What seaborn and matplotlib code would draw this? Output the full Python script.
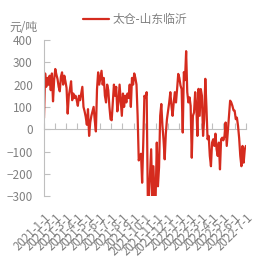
import pandas as pd
import matplotlib
matplotlib.use("Agg")
import matplotlib.pyplot as plt
import matplotlib.dates as mdates
import seaborn as sns

# spread values, 10 readings per month, 2021-01 .. 2022-06
m2021_01 = [50, 250, 190, 230, 200, 240, 175, 250, 125, 220]
m2021_02 = [270, 245, 225, 190, 170, 235, 255, 200, 240, 215]
m2021_03 = [185, 70, 150, 180, 215, 130, 160, 140, 150, 130]
m2021_04 = [105, 150, 130, 160, 190, 100, 80, 55, 20, 90]
m2021_05 = [-30, 30, 60, 80, 100, 40, -10, 180, 255, 200]
m2021_06 = [230, 262, 200, 230, 150, 120, 200, 175, 100, 45]
m2021_07 = [40, 120, 200, 150, 190, 80, 120, 200, 130, 60]
m2021_08 = [160, 100, 150, 120, 160, 140, 200, 100, 230, 200]
m2021_09 = [250, 230, 200, 60, -140, -120, -110, -240, -60, 150]
m2021_10 = [140, 166, -300, -310, -200, -90, -310, -166, -310, -300]
m2021_11 = [-60, -256, -170, 60, 113, 15, -50, -135, -20, 45]
m2021_12 = [83, 120, 166, 105, 60, 120, 166, 120, 180, 248]
m2022_01 = [230, 196, 180, -15, 256, 220, 350, 166, 120, 143]
m2022_02 = [105, -128, 60, 75, 166, 105, -30, 181, 60, 180]
m2022_03 = [150, -30, 45, 226, 100, -45, -30, -120, -166, -60]
m2022_04 = [-45, -75, -20, -90, -120, -60, -180, -45, -38, -50]
m2022_05 = [-30, 30, -75, -10, 60, 128, 120, 105, 85, 83]
m2022_06 = [45, 52, 15, -40, -120, -166, -75, -150, -90, -75]

series_name = "太仓-山东临沂"
unit_label = "元/吨"

values = (m2021_01 + m2021_02 + m2021_03 + m2021_04 + m2021_05 + m2021_06
          + m2021_07 + m2021_08 + m2021_09 + m2021_10 + m2021_11 + m2021_12
          + m2022_01 + m2022_02 + m2022_03 + m2022_04 + m2022_05 + m2022_06)
dates = pd.date_range("2021-01-01", "2022-07-01", periods=len(values))
df = pd.DataFrame({"date": dates, "spread": values})

month_ticks = pd.date_range("2021-01-01", "2022-07-01", freq="MS")
tick_labels = [f"{d.year}-{d.month}-1" for d in month_ticks]

sns.set_style("white")
plt.rcParams["font.family"] = ["Noto Sans CJK SC", "DejaVu Sans"]

grey = "#808080"
axis_grey = "#bfbfbf"
red = "#d52b1e"

fig = plt.figure(figsize=(2.65, 2.65), dpi=100)
ax = fig.add_axes([0.166, 0.26, 0.762, 0.589])
sns.lineplot(data=df, x="date", y="spread", color=red, linewidth=1.6,
             label=series_name, ax=ax)

ax.set_ylim(-300, 400)
ax.set_yticks(range(-300, 401, 100))
ax.set_xlim(month_ticks[0], month_ticks[-1])
ax.set_xticks(month_ticks)
ax.set_xticklabels(tick_labels, rotation=45, ha="right", rotation_mode="anchor")
ax.set_xlabel("")
ax.set_ylabel("")

for s in ["top", "right", "bottom"]:
    ax.spines[s].set_visible(False)
ax.spines["left"].set_color(axis_grey)
ax.spines["left"].set_linewidth(0.8)

ax.tick_params(axis="y", direction="in", length=4, color=axis_grey,
               labelcolor=grey, labelsize=8.5, pad=8, left=True)
ax.tick_params(axis="x", length=0, labelcolor=grey, labelsize=8.3, pad=11)

# zero line with upward month ticks
zero_frac = (0 - ax.get_ylim()[0]) / (ax.get_ylim()[1] - ax.get_ylim()[0])
sec = ax.secondary_xaxis(zero_frac)
sec.set_xticks(mdates.date2num(month_ticks))
sec.set_xticklabels([])
sec.tick_params(axis="x", direction="in", length=4, color=axis_grey)
sec.spines["bottom"].set_color(axis_grey)
sec.spines["bottom"].set_linewidth(0.8)

ax.legend_.remove()
fig.legend(loc="center", bbox_to_anchor=(0.51, 0.925), frameon=False,
           fontsize=8.5, handlelength=2.2, handletextpad=0.3,
           labelcolor=grey)
fig.text(0.035, 0.897, unit_label, color=grey, fontsize=8.5, va="center")

fig.savefig("out.png", dpi=100)
